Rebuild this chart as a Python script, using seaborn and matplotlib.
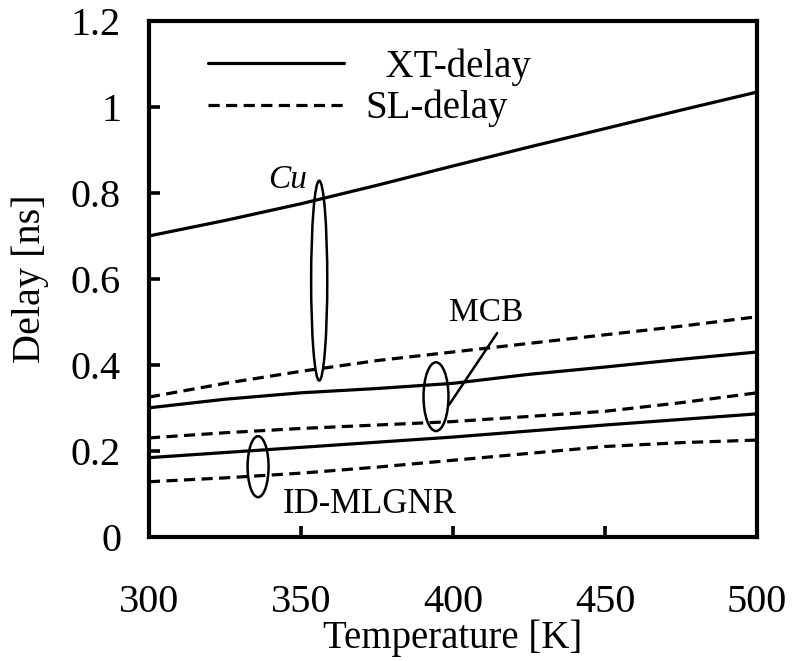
import numpy as np
import pandas as pd
import seaborn as sns
import matplotlib
matplotlib.use("Agg")
import matplotlib.pyplot as plt
from matplotlib.patches import Ellipse
from matplotlib.lines import Line2D

temperature = [300, 325, 350, 375, 400, 425, 450, 475, 500]
cu_xt = [0.700, 0.736, 0.775, 0.818, 0.863, 0.907, 0.950, 0.993, 1.035]
cu_sl = [0.325, 0.357, 0.385, 0.410, 0.430, 0.450, 0.470, 0.490, 0.512]
mcb_xt = [0.300, 0.320, 0.335, 0.345, 0.357, 0.378, 0.395, 0.413, 0.430]
mcb_sl = [0.230, 0.242, 0.252, 0.260, 0.268, 0.280, 0.292, 0.312, 0.335]
gnr_xt = [0.184, 0.196, 0.208, 0.220, 0.232, 0.246, 0.260, 0.273, 0.286]
gnr_sl = [0.128, 0.137, 0.148, 0.162, 0.178, 0.194, 0.210, 0.219, 0.225]

yticks = [0, 0.2, 0.4, 0.6, 0.8, 1, 1.2]
ytick_labels = ["0", "0.2", "0.4", "0.6", "0.8", "1", "1.2"]
xticks = [300, 350, 400, 450, 500]

series = [
    ("Cu", "XT-delay", cu_xt), ("Cu", "SL-delay", cu_sl),
    ("MCB", "XT-delay", mcb_xt), ("MCB", "SL-delay", mcb_sl),
    ("ID-MLGNR", "XT-delay", gnr_xt), ("ID-MLGNR", "SL-delay", gnr_sl),
]
rows = []
for mat, kind, vals in series:
    for t, v in zip(temperature, vals):
        rows.append({"mat": mat, "kind": kind, "T": t, "delay": v})
df = pd.DataFrame(rows)

sns.set_theme(style="ticks")
plt.rcParams["font.family"] = ["Liberation Serif", "DejaVu Serif"]
plt.rcParams["text.color"] = "black"
plt.rcParams["axes.labelcolor"] = "black"

fig = plt.figure(figsize=(7.92, 6.61), dpi=100)
ax = fig.add_axes([0.188, 0.188, 0.768, 0.780])

lw = 2.3
for mat, kind, vals in series:
    sub = df[(df.mat == mat) & (df.kind == kind)]
    sns.lineplot(data=sub, x="T", y="delay", ax=ax, color="black", linewidth=lw,
                 linestyle="-" if kind == "XT-delay" else (0, (3.5, 2)), legend=False)

ax.set_xlim(300, 500)
ax.set_ylim(0, 1.2)
ax.set_xticks(xticks)
ax.set_yticks(yticks)
ax.set_yticklabels(ytick_labels)
for s in ax.spines.values():
    s.set_linewidth(3.0)
    s.set_color("black")
ax.tick_params(axis="both", direction="in", length=8, width=2.6, labelsize=29, colors="black")
ax.tick_params(axis="x", pad=34, top=False)
ax.tick_params(axis="y", pad=20, right=False)
ax.set_xlabel("Temperature [K]", fontsize=28, labelpad=-1)
ax.set_ylabel("Delay [ns]", fontsize=29, labelpad=16)

# ellipses
for (cx, cy, w, h) in [(356.0, 0.596, 5.3, 0.465), (394.4, 0.326, 8.2, 0.16), (335.9, 0.163, 6.9, 0.142)]:
    ax.add_patch(Ellipse((cx, cy), w, h, fill=False, edgecolor="black", linewidth=1.8))
ax.plot([398.7, 414.5], [0.307, 0.474], color="black", linewidth=1.8)

ax.text(345.7, 0.83, "Cu", fontsize=24, style="italic", ha="center", va="center")
ax.text(411, 0.521, "MCB", fontsize=24, ha="center", va="center")
ax.text(372.7, 0.074, "ID-MLGNR", fontsize=25, ha="center", va="center")

handles = [Line2D([0], [0], color="black", linewidth=lw, linestyle="-"),
           Line2D([0], [0], color="black", linewidth=lw, linestyle=(0, (3.5, 2)))]
ax.legend(handles, ["  XT-delay", "SL-delay"], loc="upper left", bbox_to_anchor=(0.04, 1.015),
          frameon=False, fontsize=28, handlelength=3.5, handletextpad=0.55, labelspacing=0.1)

fig.savefig("out.png", dpi=100)
